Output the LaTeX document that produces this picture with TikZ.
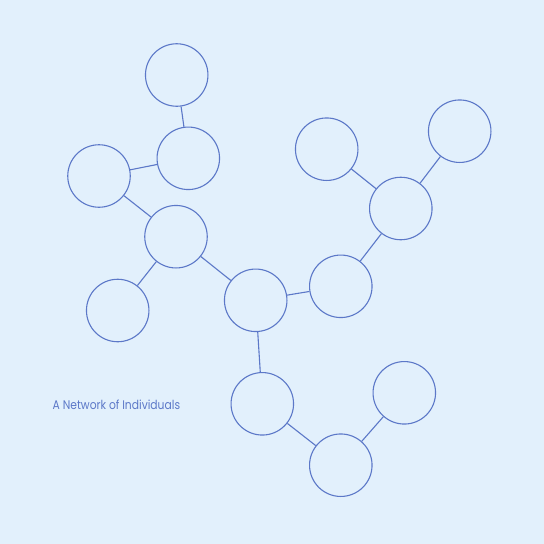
\documentclass[tikz,border=0pt]{standalone}
\usepackage{fontspec}
\setmainfont{Poppins}
\definecolor{bg}{RGB}{226,240,252}
\definecolor{ink}{RGB}{92,120,200}
\begin{document}
\begin{tikzpicture}[x=1pt,y=-1pt,
  person/.style={circle,draw=ink,line width=1.1pt,minimum size=62.5pt,inner sep=0pt},
  link/.style={draw=ink,line width=1.1pt}]
\fill[bg] (0,0) rectangle (544,544);
\useasboundingbox (0,0) rectangle (544,544);
\node[person] (n1) at (176.7,75) {};
\node[person] (n2) at (188.3,158.3) {};
\node[person] (n3) at (99,176) {};
\node[person] (n4) at (176,236.7) {};
\node[person] (n5) at (117.7,310.5) {};
\node[person] (n6) at (255.7,300.3) {};
\node[person] (n7) at (340.8,286.3) {};
\node[person] (n8) at (400.8,208.5) {};
\node[person] (n9) at (326.7,149.2) {};
\node[person] (n10) at (459.7,131.2) {};
\node[person] (n11) at (262.3,403.8) {};
\node[person] (n12) at (340.8,465.2) {};
\node[person] (n13) at (404.3,392.8) {};
\draw[link] (n1) -- (n2);
\draw[link] (n2) -- (n3);
\draw[link] (n3) -- (n4);
\draw[link] (n4) -- (n5);
\draw[link] (n4) -- (n6);
\draw[link] (n6) -- (n7);
\draw[link] (n7) -- (n8);
\draw[link] (n8) -- (n9);
\draw[link] (n8) -- (n10);
\draw[link] (n6) -- (n11);
\draw[link] (n11) -- (n12);
\draw[link] (n12) -- (n13);
\node[anchor=base west,inner sep=0pt,text=ink,font=\fontsize{12.5}{14}\selectfont] (title) at (52.5,409.5) {\scalebox{0.86}[1]{A Network of Individuals}};
\end{tikzpicture}
\end{document}
